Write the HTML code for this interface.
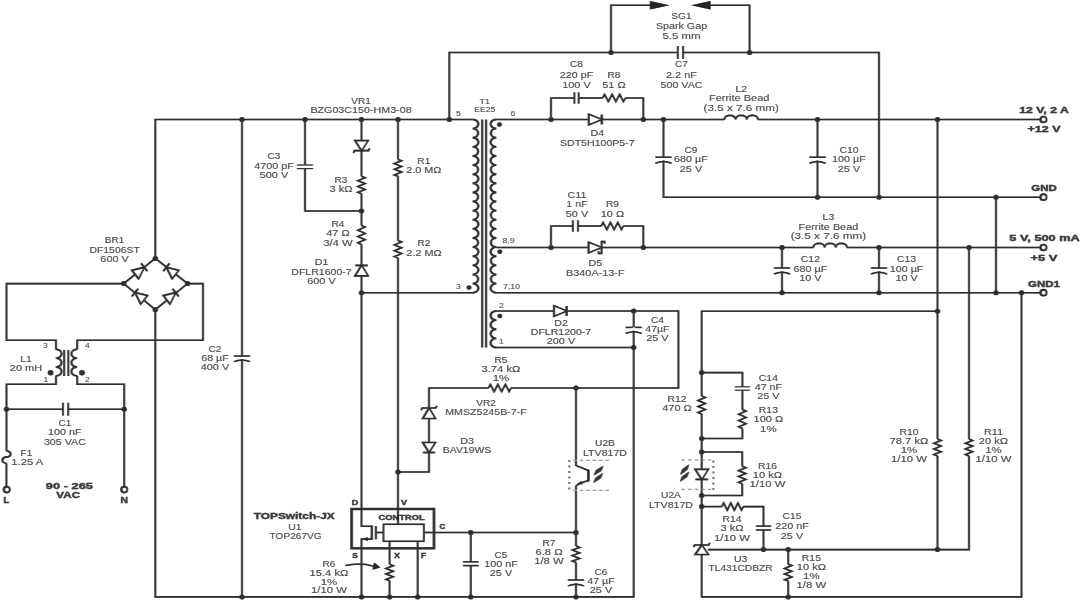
<!DOCTYPE html>
<html><head><meta charset="utf-8"><title>Schematic</title>
<style>
html,body{margin:0;padding:0;background:#fff;}
body{width:1080px;height:600px;overflow:hidden;}
svg{display:block;font-family:"Liberation Sans",sans-serif;filter:grayscale(1);}
</style></head><body>
<svg width="1080" height="600" viewBox="0 0 1080 600" fill="none" stroke="#1a1a1a" stroke-linecap="butt" stroke-linejoin="miter">
<rect x="0" y="0" width="1080" height="600" fill="#fff" stroke="none"/>
<defs><g id="all">
<path d="M124.00,283.60 L6.50,283.60 L6.50,340.20 L56.00,340.20 L56.00,349.50" stroke-width="1.6" />
<path d="M187.60,283.60 L203.00,283.60 L203.00,340.20 L77.20,340.20 L77.20,349.50" stroke-width="1.6" />
<path d="M56.00,349.30 A5.60,4.43 0 0 1 56.00,358.17 A5.60,4.43 0 0 1 56.00,367.03 A5.60,4.43 0 0 1 56.00,375.90" stroke-width="1.8"/>
<path d="M77.00,349.30 A5.60,4.43 0 0 0 77.00,358.17 A5.60,4.43 0 0 0 77.00,367.03 A5.60,4.43 0 0 0 77.00,375.90" stroke-width="1.8"/>
<path d="M64.20,350.00 L64.20,376.00" stroke-width="1.6" />
<path d="M68.30,350.00 L68.30,376.00" stroke-width="1.6" />
<path d="M56.00,375.70 L56.00,384.30 L6.50,384.30 L6.50,451.00" stroke-width="1.6" />
<path d="M77.20,375.70 L77.20,384.30 L124.20,384.30 L124.20,487.00" stroke-width="1.6" />
<circle cx="50.60" cy="372.80" r="2.7" fill="#1a1a1a" stroke="none"/>
<circle cx="82.00" cy="372.80" r="2.7" fill="#1a1a1a" stroke="none"/>
<path d="M6.50,409.20 L63.00,409.20" stroke-width="1.6" />
<path d="M68.20,409.20 L124.20,409.20" stroke-width="1.6" />
<path d="M63.00,402.70 L63.00,415.70" stroke-width="1.5" />
<path d="M68.20,402.70 L68.20,415.70" stroke-width="1.5" />
<circle cx="6.50" cy="409.20" r="2.5" fill="#1a1a1a" stroke="none"/>
<circle cx="124.20" cy="409.20" r="2.5" fill="#1a1a1a" stroke="none"/>
<path d="M6.4,450.8 C12,451.5 12,456.4 6.6,457 C1,457.6 1,462.6 6.4,463.3" stroke-width="1.8"/>
<path d="M6.40,463.30 L6.40,487.00" stroke-width="1.6" />
<circle cx="6.70" cy="489.60" r="2.9" fill="#fff" stroke-width="1.9"/>
<circle cx="124.20" cy="489.60" r="2.9" fill="#fff" stroke-width="1.9"/>
<path d="M155.30,258.40 L123.70,283.60 L155.30,309.70 L187.60,283.60 L155.30,258.40" stroke-width="1.6" />
<path d="M138.51,278.61 L131.90,270.33 L144.20,267.30 Z" fill="#fff" stroke-width="1.7"/>
<path d="M147.32,271.21 L141.08,263.39" stroke-width="1.8" />
<path d="M178.70,270.33 L172.09,278.61 L166.40,267.30 Z" fill="#fff" stroke-width="1.7"/>
<path d="M169.52,263.39 L163.28,271.21" stroke-width="1.8" />
<path d="M147.30,295.63 L140.69,303.91 L135.00,292.60 Z" fill="#fff" stroke-width="1.7"/>
<path d="M138.12,288.69 L131.88,296.51" stroke-width="1.8" />
<path d="M169.91,303.91 L163.30,295.63 L175.60,292.60 Z" fill="#fff" stroke-width="1.7"/>
<path d="M178.72,296.51 L172.48,288.69" stroke-width="1.8" />
<circle cx="155.30" cy="258.40" r="2.5" fill="#1a1a1a" stroke="none"/>
<circle cx="123.70" cy="283.60" r="2.5" fill="#1a1a1a" stroke="none"/>
<circle cx="187.60" cy="283.60" r="2.5" fill="#1a1a1a" stroke="none"/>
<circle cx="155.30" cy="309.70" r="2.5" fill="#1a1a1a" stroke="none"/>
<path d="M155.30,258.40 L155.30,119.50 L472.50,119.50" stroke-width="1.6" />
<path d="M155.30,309.70 L155.30,596.90 L633.70,596.90 L633.70,311.00" stroke-width="1.6" />
<path d="M242.00,119.50 L242.00,356.00" stroke-width="1.6" />
<path d="M242.00,359.30 L242.00,596.90" stroke-width="1.6" />
<path d="M234.00,356.00 L250.00,356.00" stroke-width="1.5" />
<path d="M234.00,361.60 Q242.00,358.20 250.00,361.60" stroke-width="1.5"/>
<circle cx="242.00" cy="119.50" r="2.5" fill="#1a1a1a" stroke="none"/>
<circle cx="242.00" cy="596.90" r="2.5" fill="#1a1a1a" stroke="none"/>
<path d="M305.00,119.50 L305.00,165.00" stroke-width="1.6" />
<path d="M305.00,168.60 L305.00,211.00 L361.50,211.00" stroke-width="1.6" />
<path d="M297.00,165.00 L313.00,165.00" stroke-width="1.1" />
<path d="M297.00,168.60 L313.00,168.60" stroke-width="1.1" />
<circle cx="305.00" cy="119.50" r="2.5" fill="#1a1a1a" stroke="none"/>
<path d="M361.50,119.50 L361.50,140.60" stroke-width="1.6" />
<path d="M361.50,150.60 L361.50,176.30" stroke-width="1.6" />
<path d="M355.00,140.60 L368.00,140.60 L361.50,150.60 Z" fill="#fff" stroke-width="1.7"/>
<path d="M353.50,152.90 L354.40,150.60 L368.60,150.60 L369.50,148.30" stroke-width="1.6" />
<path d="M361.50,176.30 L365.10,177.76 L357.90,180.68 L365.10,183.59 L357.90,186.51 L365.10,189.43 L357.90,192.34 L361.50,193.80" stroke-width="1.6" stroke-linejoin="miter"/>
<path d="M361.50,193.80 L361.50,225.50" stroke-width="1.6" />
<path d="M361.50,225.50 L365.10,227.07 L357.90,230.22 L365.10,233.38 L357.90,236.53 L365.10,239.68 L357.90,242.82 L361.50,244.40" stroke-width="1.6" stroke-linejoin="miter"/>
<path d="M361.50,244.40 L361.50,265.40" stroke-width="1.6" />
<path d="M368.00,275.90 L355.00,275.90 L361.50,265.40 Z" fill="#fff" stroke-width="1.7"/>
<path d="M367.70,265.40 L355.30,265.40" stroke-width="1.8" />
<path d="M361.50,276.00 L361.50,509.00" stroke-width="1.6" />
<circle cx="361.50" cy="119.50" r="2.5" fill="#1a1a1a" stroke="none"/>
<circle cx="361.50" cy="211.00" r="2.5" fill="#1a1a1a" stroke="none"/>
<circle cx="361.50" cy="292.70" r="2.5" fill="#1a1a1a" stroke="none"/>
<path d="M398.00,119.50 L398.00,159.40" stroke-width="1.6" />
<path d="M398.00,159.40 L401.60,160.81 L394.40,163.62 L401.60,166.44 L394.40,169.26 L401.60,172.08 L394.40,174.89 L398.00,176.30" stroke-width="1.6" stroke-linejoin="miter"/>
<path d="M398.00,176.30 L398.00,240.50" stroke-width="1.6" />
<path d="M398.00,240.50 L401.60,241.96 L394.40,244.88 L401.60,247.79 L394.40,250.71 L401.60,253.62 L394.40,256.54 L398.00,258.00" stroke-width="1.6" stroke-linejoin="miter"/>
<path d="M398.00,258.00 L398.00,524.30" stroke-width="1.6" />
<circle cx="398.00" cy="119.50" r="2.5" fill="#1a1a1a" stroke="none"/>
<circle cx="398.00" cy="472.00" r="2.5" fill="#1a1a1a" stroke="none"/>
<circle cx="449.30" cy="119.50" r="2.5" fill="#1a1a1a" stroke="none"/>
<path d="M449.30,119.50 L449.30,52.50 L676.80,52.50" stroke-width="1.6" />
<path d="M683.00,52.50 L879.00,52.50 L879.00,197.20" stroke-width="1.6" />
<path d="M677.80,46.00 L677.80,59.00" stroke-width="1.5" />
<path d="M683.10,46.00 L683.10,59.00" stroke-width="1.5" />
<path d="M611.00,52.50 L611.00,5.20 L652.00,5.20" stroke-width="1.6" />
<path d="M708.00,5.20 L749.60,5.20 L749.60,52.50" stroke-width="1.6" />
<path d="M650,1 L669.5,5.2 L650,9.4 Z" fill="#111" stroke="none"/>
<path d="M710.5,1 L691,5.2 L710.5,9.4 Z" fill="#111" stroke="none"/>
<circle cx="611.00" cy="52.50" r="2.5" fill="#1a1a1a" stroke="none"/>
<circle cx="749.60" cy="52.50" r="2.5" fill="#1a1a1a" stroke="none"/>
<path d="M472.80,119.50 A5.60,4.56 0 0 1 472.80,128.62 A5.60,4.56 0 0 1 472.80,137.73 A5.60,4.56 0 0 1 472.80,146.85 A5.60,4.56 0 0 1 472.80,155.96 A5.60,4.56 0 0 1 472.80,165.08 A5.60,4.56 0 0 1 472.80,174.19 A5.60,4.56 0 0 1 472.80,183.31 A5.60,4.56 0 0 1 472.80,192.43 A5.60,4.56 0 0 1 472.80,201.54 A5.60,4.56 0 0 1 472.80,210.66 A5.60,4.56 0 0 1 472.80,219.77 A5.60,4.56 0 0 1 472.80,228.89 A5.60,4.56 0 0 1 472.80,238.01 A5.60,4.56 0 0 1 472.80,247.12 A5.60,4.56 0 0 1 472.80,256.24 A5.60,4.56 0 0 1 472.80,265.35 A5.60,4.56 0 0 1 472.80,274.47 A5.60,4.56 0 0 1 472.80,283.58 A5.60,4.56 0 0 1 472.80,292.70" stroke-width="1.9"/>
<path d="M361.50,292.70 L473.00,292.70" stroke-width="1.6" />
<path d="M482.20,119.50 L482.20,347.50" stroke-width="1.7" />
<path d="M486.10,119.50 L486.10,347.50" stroke-width="1.7" />
<path d="M496.20,119.50 A5.60,4.56 0 0 0 496.20,128.62 A5.60,4.56 0 0 0 496.20,137.73 A5.60,4.56 0 0 0 496.20,146.85 A5.60,4.56 0 0 0 496.20,155.96 A5.60,4.56 0 0 0 496.20,165.08 A5.60,4.56 0 0 0 496.20,174.19 A5.60,4.56 0 0 0 496.20,183.31 A5.60,4.56 0 0 0 496.20,192.43 A5.60,4.56 0 0 0 496.20,201.54 A5.60,4.56 0 0 0 496.20,210.66 A5.60,4.56 0 0 0 496.20,219.77 A5.60,4.56 0 0 0 496.20,228.89 A5.60,4.56 0 0 0 496.20,238.01 A5.60,4.56 0 0 0 496.20,247.12 A5.60,4.56 0 0 0 496.20,256.24 A5.60,4.56 0 0 0 496.20,265.35 A5.60,4.56 0 0 0 496.20,274.47 A5.60,4.56 0 0 0 496.20,283.58 A5.60,4.56 0 0 0 496.20,292.70" stroke-width="1.9"/>
<path d="M496.20,311.00 A5.60,4.56 0 0 0 496.20,320.12 A5.60,4.56 0 0 0 496.20,329.25 A5.60,4.56 0 0 0 496.20,338.38 A5.60,4.56 0 0 0 496.20,347.50" stroke-width="1.9"/>
<circle cx="499.50" cy="124.50" r="2.3" fill="#1a1a1a" stroke="none"/>
<circle cx="499.80" cy="251.80" r="2.3" fill="#1a1a1a" stroke="none"/>
<circle cx="469.00" cy="287.50" r="2.3" fill="#1a1a1a" stroke="none"/>
<circle cx="499.80" cy="316.00" r="2.3" fill="#1a1a1a" stroke="none"/>
<path d="M496.00,119.50 L588.70,119.50" stroke-width="1.6" />
<path d="M601.80,119.50 L724.40,119.50" stroke-width="1.6" />
<path d="M588.80,124.75 L588.80,114.25 L601.80,119.50 Z" fill="#fff" stroke-width="1.7"/>
<path d="M601.80,124.45 L601.80,114.55" stroke-width="2.0" />
<path d="M551.00,119.50 L551.00,98.00 L574.40,98.00" stroke-width="1.6" />
<path d="M578.70,98.00 L602.70,98.00" stroke-width="1.6" />
<path d="M602.70,98.00 L604.58,94.40 L608.35,101.60 L612.12,94.40 L615.88,101.60 L619.65,94.40 L623.42,101.60 L625.30,98.00" stroke-width="1.6" stroke-linejoin="miter"/>
<path d="M625.30,98.00 L643.30,98.00 L643.30,119.50" stroke-width="1.6" />
<path d="M574.40,92.25 L574.40,103.75" stroke-width="1.5" />
<path d="M578.70,92.25 L578.70,103.75" stroke-width="1.5" />
<circle cx="551.00" cy="119.50" r="2.5" fill="#1a1a1a" stroke="none"/>
<circle cx="643.30" cy="119.50" r="2.5" fill="#1a1a1a" stroke="none"/>
<circle cx="663.50" cy="119.50" r="2.5" fill="#1a1a1a" stroke="none"/>
<path d="M663.50,119.50 L663.50,157.20" stroke-width="1.6" />
<path d="M663.50,160.60 L663.50,197.20 L1040.60,197.20" stroke-width="1.6" />
<path d="M655.50,157.20 L671.50,157.20" stroke-width="1.5" />
<path d="M655.50,163.20 Q663.50,159.80 671.50,163.20" stroke-width="1.5"/>
<path d="M724.40,119.50 A5.60,4.20 0 0 1 735.60,119.50 A5.60,4.20 0 0 1 746.80,119.50 A5.60,4.20 0 0 1 758.00,119.50" stroke-width="1.8"/>
<path d="M758.00,119.50 L1040.60,119.50" stroke-width="1.6" />
<path d="M817.50,119.50 L817.50,157.20" stroke-width="1.6" />
<path d="M817.50,160.60 L817.50,197.20" stroke-width="1.6" />
<path d="M809.50,157.20 L825.50,157.20" stroke-width="1.5" />
<path d="M809.50,163.20 Q817.50,159.80 825.50,163.20" stroke-width="1.5"/>
<circle cx="817.50" cy="119.50" r="2.5" fill="#1a1a1a" stroke="none"/>
<circle cx="817.50" cy="197.20" r="2.5" fill="#1a1a1a" stroke="none"/>
<circle cx="879.00" cy="197.20" r="2.5" fill="#1a1a1a" stroke="none"/>
<circle cx="937.50" cy="119.50" r="2.5" fill="#1a1a1a" stroke="none"/>
<circle cx="996.00" cy="197.20" r="2.5" fill="#1a1a1a" stroke="none"/>
<circle cx="1043.40" cy="119.50" r="2.9" fill="#fff" stroke-width="1.9"/>
<circle cx="1043.40" cy="197.20" r="2.9" fill="#fff" stroke-width="1.9"/>
<circle cx="1043.40" cy="247.50" r="2.9" fill="#fff" stroke-width="1.9"/>
<circle cx="1043.40" cy="292.70" r="2.9" fill="#fff" stroke-width="1.9"/>
<path d="M496.00,247.50 L588.70,247.50" stroke-width="1.6" />
<path d="M601.60,247.50 L813.40,247.50" stroke-width="1.6" />
<path d="M588.60,252.75 L588.60,242.25 L601.60,247.50 Z" fill="#fff" stroke-width="1.7"/>
<path d="M598.60,251.35 L598.60,253.35 L601.60,253.35 L601.60,241.65 L604.60,241.65 L604.60,243.65" stroke-width="1.6" />
<path d="M551.00,247.50 L551.00,226.00 L572.90,226.00" stroke-width="1.6" />
<path d="M578.00,226.00 L601.30,226.00" stroke-width="1.6" />
<path d="M601.30,226.00 L603.13,222.40 L606.80,229.60 L610.47,222.40 L614.13,229.60 L617.80,222.40 L621.47,229.60 L623.30,226.00" stroke-width="1.6" stroke-linejoin="miter"/>
<path d="M623.30,226.00 L643.30,226.00 L643.30,247.50" stroke-width="1.6" />
<path d="M572.90,220.25 L572.90,231.75" stroke-width="1.5" />
<path d="M578.00,220.25 L578.00,231.75" stroke-width="1.5" />
<circle cx="551.00" cy="247.50" r="2.5" fill="#1a1a1a" stroke="none"/>
<circle cx="643.30" cy="247.50" r="2.5" fill="#1a1a1a" stroke="none"/>
<path d="M813.40,247.50 A5.60,4.20 0 0 1 824.60,247.50 A5.60,4.20 0 0 1 835.80,247.50 A5.60,4.20 0 0 1 847.00,247.50" stroke-width="1.8"/>
<path d="M847.00,247.50 L1040.60,247.50" stroke-width="1.6" />
<path d="M496.00,292.70 L1040.60,292.70" stroke-width="1.6" />
<path d="M782.00,247.50 L782.00,268.00" stroke-width="1.6" />
<path d="M782.00,271.40 L782.00,292.70" stroke-width="1.6" />
<path d="M774.00,268.00 L790.00,268.00" stroke-width="1.5" />
<path d="M774.00,274.00 Q782.00,270.60 790.00,274.00" stroke-width="1.5"/>
<circle cx="782.00" cy="247.50" r="2.5" fill="#1a1a1a" stroke="none"/>
<circle cx="782.00" cy="292.70" r="2.5" fill="#1a1a1a" stroke="none"/>
<path d="M879.00,247.50 L879.00,268.00" stroke-width="1.6" />
<path d="M879.00,271.40 L879.00,292.70" stroke-width="1.6" />
<path d="M871.00,268.00 L887.00,268.00" stroke-width="1.5" />
<path d="M871.00,274.00 Q879.00,270.60 887.00,274.00" stroke-width="1.5"/>
<circle cx="879.00" cy="247.50" r="2.5" fill="#1a1a1a" stroke="none"/>
<circle cx="879.00" cy="292.70" r="2.5" fill="#1a1a1a" stroke="none"/>
<circle cx="969.00" cy="247.50" r="2.5" fill="#1a1a1a" stroke="none"/>
<circle cx="996.00" cy="292.70" r="2.5" fill="#1a1a1a" stroke="none"/>
<circle cx="1021.50" cy="292.70" r="2.5" fill="#1a1a1a" stroke="none"/>
<path d="M996.00,197.20 L996.00,292.70" stroke-width="1.6" />
<path d="M937.50,119.50 L937.50,439.00" stroke-width="1.6" />
<path d="M937.50,439.00 L941.10,440.42 L933.90,443.25 L941.10,446.08 L933.90,448.92 L941.10,451.75 L933.90,454.58 L937.50,456.00" stroke-width="1.6" stroke-linejoin="miter"/>
<path d="M937.50,456.00 L937.50,549.60" stroke-width="1.6" />
<path d="M969.00,247.50 L969.00,439.00" stroke-width="1.6" />
<path d="M969.00,439.00 L972.60,440.42 L965.40,443.25 L972.60,446.08 L965.40,448.92 L972.60,451.75 L965.40,454.58 L969.00,456.00" stroke-width="1.6" stroke-linejoin="miter"/>
<path d="M969.00,456.00 L969.00,549.60 L708.00,549.60" stroke-width="1.6" />
<path d="M1021.50,292.70 L1021.50,596.90 L701.70,596.90 L701.70,554.50" stroke-width="1.6" />
<circle cx="937.50" cy="311.30" r="2.5" fill="#1a1a1a" stroke="none"/>
<circle cx="937.50" cy="549.60" r="2.5" fill="#1a1a1a" stroke="none"/>
<path d="M496.00,311.00 L554.00,311.00" stroke-width="1.6" />
<path d="M566.60,311.00 L678.40,311.00 L678.40,388.00 L511.00,388.00" stroke-width="1.6" />
<path d="M554.00,316.25 L554.00,305.75 L566.60,311.00 Z" fill="#fff" stroke-width="1.7"/>
<path d="M566.60,315.95 L566.60,306.05" stroke-width="2.0" />
<path d="M496.00,347.50 L633.70,347.50" stroke-width="1.6" />
<circle cx="633.70" cy="311.00" r="2.5" fill="#1a1a1a" stroke="none"/>
<circle cx="633.70" cy="347.50" r="2.5" fill="#1a1a1a" stroke="none"/>
<path d="M625.70,327.40 L641.70,327.40" stroke-width="1.5" />
<path d="M625.70,333.40 Q633.70,330.00 641.70,333.40" stroke-width="1.5"/>
<path d="M633.7,327.4 L633.7,330.6" stroke="#fff" stroke-width="2.4"/>
<path d="M488.50,388.00 L490.38,384.40 L494.12,391.60 L497.88,384.40 L501.62,391.60 L505.38,384.40 L509.12,391.60 L511.00,388.00" stroke-width="1.6" stroke-linejoin="miter"/>
<path d="M488.50,388.00 L429.00,388.00 L429.00,408.00" stroke-width="1.6" />
<path d="M435.25,418.50 L422.75,418.50 L429.00,408.00 Z" fill="#fff" stroke-width="1.7"/>
<path d="M421.25,410.30 L422.15,408.00 L435.85,408.00 L436.75,405.70" stroke-width="1.6" />
<path d="M429.00,418.50 L429.00,442.50" stroke-width="1.6" />
<path d="M422.75,442.50 L435.25,442.50 L429.00,452.50 Z" fill="#fff" stroke-width="1.7"/>
<path d="M423.05,452.50 L434.95,452.50" stroke-width="1.8" />
<path d="M429.00,452.50 L429.00,472.00 L398.00,472.00" stroke-width="1.6" />
<circle cx="576.00" cy="388.00" r="2.5" fill="#1a1a1a" stroke="none"/>
<path d="M576.00,388.00 L576.00,465.40 L588.40,470.60" stroke-width="1.6" />
<path d="M588.40,469.80 L588.40,481.40" stroke-width="2.2" />
<path d="M588.40,480.60 L579.20,483.40 L576.00,486.20 L576.00,546.00" stroke-width="1.6" />
<path d="M577,485 L582.6,484 L581.2,481 Z" fill="#111" stroke="none"/>
<path d="M608.6,460.4 L572,460.4 M608.6,490.4 L572,490.4" stroke="#909090" stroke-width="1.2" stroke-dasharray="3,3.4" />
<path d="M569.3,460 L569.3,490" stroke="#666" stroke-width="1.7" stroke-dasharray="2,3.5" />
<path d="M603.0,466.2 L596.2,470.3 L594.2,475.0 L601.0,470.9 Z" fill="#222" stroke="#222" stroke-width="0.6" stroke-linejoin="round"/>
<path d="M602.6,473.4 L595.8,477.8 L593.8,482.6 L600.6,478.2 Z" fill="#222" stroke="#222" stroke-width="0.6" stroke-linejoin="round"/>
<path d="M434.00,532.50 L576.00,532.50" stroke-width="1.6" />
<circle cx="470.80" cy="532.50" r="2.5" fill="#1a1a1a" stroke="none"/>
<circle cx="576.00" cy="532.50" r="2.5" fill="#1a1a1a" stroke="none"/>
<path d="M470.80,532.50 L470.80,561.60" stroke-width="1.6" />
<path d="M470.80,565.40 L470.80,596.90" stroke-width="1.6" />
<path d="M463.05,561.80 L478.55,561.80" stroke-width="1.5" />
<path d="M463.05,565.60 L478.55,565.60" stroke-width="1.5" />
<circle cx="470.80" cy="596.90" r="2.5" fill="#1a1a1a" stroke="none"/>
<path d="M576.00,546.00 L579.60,547.38 L572.40,550.12 L579.60,552.88 L572.40,555.62 L579.60,558.38 L572.40,561.12 L576.00,562.50" stroke-width="1.6" stroke-linejoin="miter"/>
<path d="M576.00,562.50 L576.00,580.00" stroke-width="1.6" />
<path d="M576.00,583.30 L576.00,596.90" stroke-width="1.6" />
<path d="M568.00,580.00 L584.00,580.00" stroke-width="1.5" />
<path d="M568.00,585.90 Q576.00,582.50 584.00,585.90" stroke-width="1.5"/>
<circle cx="576.00" cy="596.90" r="2.5" fill="#1a1a1a" stroke="none"/>
<rect x="351.6" y="509" width="82.4" height="39.3" fill="none" stroke-width="2.3"/>
<rect x="383.5" y="524.3" width="40.4" height="17" fill="none" stroke-width="1.5"/>
<path d="M361.50,509.00 L361.50,526.30 L371.80,526.30" stroke-width="1.6" />
<path d="M371.80,525.50 L371.80,539.90" stroke-width="1.9" />
<path d="M375.90,526.00 L375.90,539.30" stroke-width="1.7" />
<path d="M375.90,532.50 L383.50,532.50" stroke-width="1.6" />
<path d="M423.90,532.50 L434.00,532.50" stroke-width="1.6" />
<path d="M371.80,539.10 L361.50,539.10 L361.50,596.90" stroke-width="1.6" />
<path d="M363.4,539.1 L367.6,536.9 L367.6,541.3 Z" fill="#111" stroke="none"/>
<path d="M389.60,541.30 L389.60,564.30" stroke-width="1.6" />
<path d="M389.60,564.30 L393.20,565.67 L386.00,568.42 L393.20,571.17 L386.00,573.92 L393.20,576.67 L386.00,579.42 L389.60,580.80" stroke-width="1.6" stroke-linejoin="miter"/>
<path d="M389.60,580.80 L389.60,596.90" stroke-width="1.6" />
<path d="M417.70,541.30 L417.70,596.90" stroke-width="1.6" />
<circle cx="361.50" cy="596.90" r="2.5" fill="#1a1a1a" stroke="none"/>
<circle cx="389.60" cy="596.90" r="2.5" fill="#1a1a1a" stroke="none"/>
<circle cx="417.70" cy="596.90" r="2.5" fill="#1a1a1a" stroke="none"/>
<path d="M345.6,565.6 Q360,562 374,566.4" stroke-width="1.5"/>
<path d="M380.4,567.4 L372.6,569.8 L374.2,562.4 Z" fill="#111" stroke="none"/>
<path d="M937.50,311.30 L701.70,311.30 L701.70,396.00" stroke-width="1.6" />
<path d="M701.70,396.00 L705.30,397.50 L698.10,400.50 L705.30,403.50 L698.10,406.50 L705.30,409.50 L698.10,412.50 L701.70,414.00" stroke-width="1.6" stroke-linejoin="miter"/>
<path d="M701.70,414.00 L701.70,469.00" stroke-width="1.6" />
<path d="M701.70,479.00 L701.70,545.00" stroke-width="1.6" />
<path d="M701.70,372.60 L742.40,372.60 L742.40,386.80" stroke-width="1.6" />
<path d="M742.40,390.20 L742.40,409.50" stroke-width="1.6" />
<path d="M742.40,409.50 L746.00,411.07 L738.80,414.23 L746.00,417.38 L738.80,420.52 L746.00,423.67 L738.80,426.82 L742.40,428.40" stroke-width="1.6" stroke-linejoin="miter"/>
<path d="M742.40,428.40 L742.40,438.50 L701.70,438.50" stroke-width="1.6" />
<path d="M734.90,386.80 L749.90,386.80" stroke-width="1.0" />
<path d="M734.90,390.20 L749.90,390.20" stroke-width="1.0" />
<circle cx="701.70" cy="372.60" r="2.5" fill="#1a1a1a" stroke="none"/>
<circle cx="701.70" cy="438.50" r="2.5" fill="#1a1a1a" stroke="none"/>
<circle cx="701.70" cy="452.00" r="2.5" fill="#1a1a1a" stroke="none"/>
<circle cx="701.70" cy="495.50" r="2.5" fill="#1a1a1a" stroke="none"/>
<circle cx="701.70" cy="506.60" r="2.5" fill="#1a1a1a" stroke="none"/>
<path d="M701.70,452.00 L742.20,452.00 L742.20,466.30" stroke-width="1.6" />
<path d="M742.20,466.30 L745.80,467.76 L738.60,470.68 L745.80,473.59 L738.60,476.51 L745.80,479.43 L738.60,482.34 L742.20,483.80" stroke-width="1.6" stroke-linejoin="miter"/>
<path d="M742.20,483.80 L742.20,495.50 L701.70,495.50" stroke-width="1.6" />
<path d="M695.20,469.40 L708.20,469.40 L701.70,479.40 Z" fill="#fff" stroke-width="1.7"/>
<path d="M695.50,479.40 L707.90,479.40" stroke-width="1.8" />
<path d="M681.6,459.8 L711,459.8 M681.6,489.4 L711,489.4" stroke="#909090" stroke-width="1.2" stroke-dasharray="3,3.7" />
<path d="M713.4,460.4 L713.4,490" stroke="#666" stroke-width="1.7" stroke-dasharray="2,3.5" />
<path d="M688.8,464.8 L682.3,469.5 L680.6,474.4 L687.1,469.7 Z" fill="#222" stroke="#222" stroke-width="0.6" stroke-linejoin="round"/>
<path d="M688.8,472.0 L682.2,476.6 L680.4,481.4 L687.0,476.8 Z" fill="#222" stroke="#222" stroke-width="0.6" stroke-linejoin="round"/>
<path d="M701.70,506.60 L721.90,506.60" stroke-width="1.6" />
<path d="M721.90,506.60 L723.68,503.00 L727.25,510.20 L730.82,503.00 L734.38,510.20 L737.95,503.00 L741.52,510.20 L743.30,506.60" stroke-width="1.6" stroke-linejoin="miter"/>
<path d="M743.30,506.60 L763.50,506.60 L763.50,526.10" stroke-width="1.6" />
<path d="M763.50,530.00 L763.50,549.60" stroke-width="1.6" />
<path d="M756.00,526.10 L771.00,526.10" stroke-width="1.5" />
<path d="M756.00,530.00 L771.00,530.00" stroke-width="1.5" />
<circle cx="763.50" cy="549.60" r="2.5" fill="#1a1a1a" stroke="none"/>
<circle cx="788.20" cy="549.60" r="2.5" fill="#1a1a1a" stroke="none"/>
<path d="M708.20,554.50 L695.20,554.50 L701.70,545.00 Z" fill="#fff" stroke-width="1.7"/>
<path d="M693.70,547.30 L694.60,545.00 L708.80,545.00 L709.70,542.70" stroke-width="1.6" />
<path d="M788.20,549.60 L788.20,564.20" stroke-width="1.6" />
<path d="M788.20,564.20 L791.80,565.61 L784.60,568.43 L791.80,571.24 L784.60,574.06 L791.80,576.88 L784.60,579.69 L788.20,581.10" stroke-width="1.6" stroke-linejoin="miter"/>
<path d="M788.20,581.10 L788.20,596.90" stroke-width="1.6" />
<circle cx="788.20" cy="596.90" r="2.5" fill="#1a1a1a" stroke="none"/>
</g><g id="txt">
<text x="114.60" y="243.40" font-size="9.41" text-anchor="middle" textLength="19.56" lengthAdjust="spacingAndGlyphs" fill="#2a2a2a" stroke="none">BR1</text>
<text x="114.60" y="252.80" font-size="9.41" text-anchor="middle" textLength="50.34" lengthAdjust="spacingAndGlyphs" fill="#2a2a2a" stroke="none">DF1506ST</text>
<text x="114.60" y="262.19" font-size="9.41" text-anchor="middle" textLength="28.56" lengthAdjust="spacingAndGlyphs" fill="#2a2a2a" stroke="none">600 V</text>
<text x="26.00" y="362.19" font-size="9.41" text-anchor="middle" textLength="11.57" lengthAdjust="spacingAndGlyphs" fill="#2a2a2a" stroke="none">L1</text>
<text x="26.00" y="371.19" font-size="9.41" text-anchor="middle" textLength="32.48" lengthAdjust="spacingAndGlyphs" fill="#2a2a2a" stroke="none">20 mH</text>
<text x="64.90" y="425.99" font-size="9.41" text-anchor="middle" textLength="12.94" lengthAdjust="spacingAndGlyphs" fill="#2a2a2a" stroke="none">C1</text>
<text x="64.90" y="435.29" font-size="9.41" text-anchor="middle" textLength="33.64" lengthAdjust="spacingAndGlyphs" fill="#2a2a2a" stroke="none">100 nF</text>
<text x="64.90" y="444.59" font-size="9.41" text-anchor="middle" textLength="41.96" lengthAdjust="spacingAndGlyphs" fill="#2a2a2a" stroke="none">305 VAC</text>
<text x="26.40" y="455.99" font-size="9.41" text-anchor="middle" textLength="11.75" lengthAdjust="spacingAndGlyphs" fill="#2a2a2a" stroke="none">F1</text>
<text x="27.30" y="465.39" font-size="9.41" text-anchor="middle" textLength="32.09" lengthAdjust="spacingAndGlyphs" fill="#2a2a2a" stroke="none">1.25 A</text>
<text x="69.40" y="488.69" font-size="9.12" text-anchor="middle" textLength="47.20" lengthAdjust="spacingAndGlyphs" fill="#151515" font-weight="bold" stroke="#151515" stroke-width="0.3">90 - 265</text>
<text x="68.20" y="498.19" font-size="9.12" text-anchor="middle" textLength="23.70" lengthAdjust="spacingAndGlyphs" fill="#151515" font-weight="bold" stroke="#151515" stroke-width="0.3">VAC</text>
<text x="6.30" y="502.91" font-size="8.34" text-anchor="middle" textLength="5.60" lengthAdjust="spacingAndGlyphs" fill="#151515" font-weight="bold" stroke="#151515" stroke-width="0.3">L</text>
<text x="124.20" y="502.91" font-size="8.34" text-anchor="middle" textLength="7.50" lengthAdjust="spacingAndGlyphs" fill="#151515" font-weight="bold" stroke="#151515" stroke-width="0.3">N</text>
<text x="45.30" y="348.32" font-size="7.27" text-anchor="middle" textLength="4.77" lengthAdjust="spacingAndGlyphs" fill="#333" stroke="none">3</text>
<text x="87.30" y="348.32" font-size="7.27" text-anchor="middle" textLength="4.77" lengthAdjust="spacingAndGlyphs" fill="#333" stroke="none">4</text>
<text x="45.80" y="381.62" font-size="7.27" text-anchor="middle" textLength="4.77" lengthAdjust="spacingAndGlyphs" fill="#333" stroke="none">1</text>
<text x="87.50" y="381.62" font-size="7.27" text-anchor="middle" textLength="4.77" lengthAdjust="spacingAndGlyphs" fill="#333" stroke="none">2</text>
<text x="215.00" y="351.69" font-size="9.41" text-anchor="middle" textLength="12.94" lengthAdjust="spacingAndGlyphs" fill="#2a2a2a" stroke="none">C2</text>
<text x="215.00" y="361.09" font-size="9.41" text-anchor="middle" textLength="27.55" lengthAdjust="spacingAndGlyphs" fill="#2a2a2a" stroke="none">68 µF</text>
<text x="215.00" y="370.49" font-size="9.41" text-anchor="middle" textLength="28.56" lengthAdjust="spacingAndGlyphs" fill="#2a2a2a" stroke="none">400 V</text>
<text x="274.00" y="159.30" font-size="9.41" text-anchor="middle" textLength="12.94" lengthAdjust="spacingAndGlyphs" fill="#2a2a2a" stroke="none">C3</text>
<text x="274.00" y="168.50" font-size="9.41" text-anchor="middle" textLength="39.71" lengthAdjust="spacingAndGlyphs" fill="#2a2a2a" stroke="none">4700 pF</text>
<text x="274.00" y="177.70" font-size="9.41" text-anchor="middle" textLength="28.56" lengthAdjust="spacingAndGlyphs" fill="#2a2a2a" stroke="none">500 V</text>
<text x="361.00" y="104.39" font-size="9.41" text-anchor="middle" textLength="19.55" lengthAdjust="spacingAndGlyphs" fill="#2a2a2a" stroke="none">VR1</text>
<text x="361.00" y="113.39" font-size="9.41" text-anchor="middle" textLength="101.21" lengthAdjust="spacingAndGlyphs" fill="#2a2a2a" stroke="none">BZG03C150-HM3-08</text>
<text x="423.80" y="163.80" font-size="9.41" text-anchor="middle" textLength="12.91" lengthAdjust="spacingAndGlyphs" fill="#2a2a2a" stroke="none">R1</text>
<text x="423.80" y="173.20" font-size="9.41" text-anchor="middle" textLength="35.22" lengthAdjust="spacingAndGlyphs" fill="#2a2a2a" stroke="none">2.0 MΩ</text>
<text x="424.00" y="246.40" font-size="9.41" text-anchor="middle" textLength="12.91" lengthAdjust="spacingAndGlyphs" fill="#2a2a2a" stroke="none">R2</text>
<text x="424.00" y="256.00" font-size="9.41" text-anchor="middle" textLength="35.22" lengthAdjust="spacingAndGlyphs" fill="#2a2a2a" stroke="none">2.2 MΩ</text>
<text x="341.00" y="182.60" font-size="9.41" text-anchor="middle" textLength="12.91" lengthAdjust="spacingAndGlyphs" fill="#2a2a2a" stroke="none">R3</text>
<text x="341.00" y="192.20" font-size="9.41" text-anchor="middle" textLength="23.09" lengthAdjust="spacingAndGlyphs" fill="#2a2a2a" stroke="none">3 kΩ</text>
<text x="338.00" y="227.00" font-size="9.41" text-anchor="middle" textLength="12.91" lengthAdjust="spacingAndGlyphs" fill="#2a2a2a" stroke="none">R4</text>
<text x="338.00" y="236.30" font-size="9.41" text-anchor="middle" textLength="23.51" lengthAdjust="spacingAndGlyphs" fill="#2a2a2a" stroke="none">47 Ω</text>
<text x="338.00" y="245.59" font-size="9.41" text-anchor="middle" textLength="29.75" lengthAdjust="spacingAndGlyphs" fill="#2a2a2a" stroke="none">3/4 W</text>
<text x="321.50" y="265.39" font-size="9.41" text-anchor="middle" textLength="13.65" lengthAdjust="spacingAndGlyphs" fill="#2a2a2a" stroke="none">D1</text>
<text x="321.50" y="274.59" font-size="9.41" text-anchor="middle" textLength="60.45" lengthAdjust="spacingAndGlyphs" fill="#2a2a2a" stroke="none">DFLR1600-7</text>
<text x="321.50" y="283.79" font-size="9.41" text-anchor="middle" textLength="28.56" lengthAdjust="spacingAndGlyphs" fill="#2a2a2a" stroke="none">600 V</text>
<text x="484.70" y="103.51" font-size="8.05" text-anchor="middle" textLength="10.39" lengthAdjust="spacingAndGlyphs" fill="#2a2a2a" stroke="none">T1</text>
<text x="484.70" y="111.91" font-size="8.05" text-anchor="middle" textLength="21.05" lengthAdjust="spacingAndGlyphs" fill="#2a2a2a" stroke="none">EE25</text>
<text x="458.50" y="116.33" font-size="7.27" text-anchor="middle" textLength="4.77" lengthAdjust="spacingAndGlyphs" fill="#333" stroke="none">5</text>
<text x="513.00" y="116.33" font-size="7.27" text-anchor="middle" textLength="4.77" lengthAdjust="spacingAndGlyphs" fill="#333" stroke="none">6</text>
<text x="508.60" y="242.62" font-size="7.27" text-anchor="middle" textLength="12.27" lengthAdjust="spacingAndGlyphs" fill="#333" stroke="none">8,9</text>
<text x="511.60" y="288.82" font-size="7.27" text-anchor="middle" textLength="17.04" lengthAdjust="spacingAndGlyphs" fill="#333" stroke="none">7,10</text>
<text x="458.50" y="288.82" font-size="7.27" text-anchor="middle" textLength="4.77" lengthAdjust="spacingAndGlyphs" fill="#333" stroke="none">3</text>
<text x="501.40" y="308.02" font-size="7.27" text-anchor="middle" textLength="4.77" lengthAdjust="spacingAndGlyphs" fill="#333" stroke="none">2</text>
<text x="501.40" y="344.22" font-size="7.27" text-anchor="middle" textLength="4.77" lengthAdjust="spacingAndGlyphs" fill="#333" stroke="none">1</text>
<text x="681.50" y="18.70" font-size="9.41" text-anchor="middle" textLength="20.32" lengthAdjust="spacingAndGlyphs" fill="#2a2a2a" stroke="none">SG1</text>
<text x="681.50" y="29.09" font-size="9.41" text-anchor="middle" textLength="51.20" lengthAdjust="spacingAndGlyphs" fill="#2a2a2a" stroke="none">Spark Gap</text>
<text x="681.50" y="38.50" font-size="9.41" text-anchor="middle" textLength="38.16" lengthAdjust="spacingAndGlyphs" fill="#2a2a2a" stroke="none">5.5 mm</text>
<text x="681.50" y="67.39" font-size="9.41" text-anchor="middle" textLength="12.94" lengthAdjust="spacingAndGlyphs" fill="#2a2a2a" stroke="none">C7</text>
<text x="681.50" y="77.59" font-size="9.41" text-anchor="middle" textLength="31.00" lengthAdjust="spacingAndGlyphs" fill="#2a2a2a" stroke="none">2.2 nF</text>
<text x="681.50" y="87.80" font-size="9.41" text-anchor="middle" textLength="41.96" lengthAdjust="spacingAndGlyphs" fill="#2a2a2a" stroke="none">500 VAC</text>
<text x="576.50" y="67.39" font-size="9.41" text-anchor="middle" textLength="12.94" lengthAdjust="spacingAndGlyphs" fill="#2a2a2a" stroke="none">C8</text>
<text x="576.50" y="77.59" font-size="9.41" text-anchor="middle" textLength="33.54" lengthAdjust="spacingAndGlyphs" fill="#2a2a2a" stroke="none">220 pF</text>
<text x="576.50" y="87.80" font-size="9.41" text-anchor="middle" textLength="28.56" lengthAdjust="spacingAndGlyphs" fill="#2a2a2a" stroke="none">100 V</text>
<text x="614.00" y="77.80" font-size="9.41" text-anchor="middle" textLength="12.91" lengthAdjust="spacingAndGlyphs" fill="#2a2a2a" stroke="none">R8</text>
<text x="614.00" y="87.80" font-size="9.41" text-anchor="middle" textLength="23.51" lengthAdjust="spacingAndGlyphs" fill="#2a2a2a" stroke="none">51 Ω</text>
<text x="741.20" y="92.20" font-size="9.41" text-anchor="middle" textLength="11.57" lengthAdjust="spacingAndGlyphs" fill="#2a2a2a" stroke="none">L2</text>
<text x="739.20" y="101.39" font-size="9.41" text-anchor="middle" textLength="60.50" lengthAdjust="spacingAndGlyphs" fill="#2a2a2a" stroke="none">Ferrite Bead</text>
<text x="741.20" y="111.00" font-size="9.41" text-anchor="middle" textLength="75.41" lengthAdjust="spacingAndGlyphs" fill="#2a2a2a" stroke="none">(3.5 x 7.6 mm)</text>
<text x="597.30" y="136.40" font-size="9.41" text-anchor="middle" textLength="13.65" lengthAdjust="spacingAndGlyphs" fill="#2a2a2a" stroke="none">D4</text>
<text x="597.30" y="146.09" font-size="9.41" text-anchor="middle" textLength="74.64" lengthAdjust="spacingAndGlyphs" fill="#2a2a2a" stroke="none">SDT5H100P5-7</text>
<text x="691.00" y="152.90" font-size="9.41" text-anchor="middle" textLength="12.94" lengthAdjust="spacingAndGlyphs" fill="#2a2a2a" stroke="none">C9</text>
<text x="691.00" y="162.30" font-size="9.41" text-anchor="middle" textLength="33.72" lengthAdjust="spacingAndGlyphs" fill="#2a2a2a" stroke="none">680 µF</text>
<text x="691.00" y="171.70" font-size="9.41" text-anchor="middle" textLength="22.39" lengthAdjust="spacingAndGlyphs" fill="#2a2a2a" stroke="none">25 V</text>
<text x="849.00" y="152.90" font-size="9.41" text-anchor="middle" textLength="19.11" lengthAdjust="spacingAndGlyphs" fill="#2a2a2a" stroke="none">C10</text>
<text x="849.00" y="162.30" font-size="9.41" text-anchor="middle" textLength="33.72" lengthAdjust="spacingAndGlyphs" fill="#2a2a2a" stroke="none">100 µF</text>
<text x="849.00" y="171.70" font-size="9.41" text-anchor="middle" textLength="22.39" lengthAdjust="spacingAndGlyphs" fill="#2a2a2a" stroke="none">25 V</text>
<text x="577.00" y="197.80" font-size="9.41" text-anchor="middle" textLength="19.11" lengthAdjust="spacingAndGlyphs" fill="#2a2a2a" stroke="none">C11</text>
<text x="577.00" y="207.40" font-size="9.41" text-anchor="middle" textLength="21.30" lengthAdjust="spacingAndGlyphs" fill="#2a2a2a" stroke="none">1 nF</text>
<text x="577.00" y="217.00" font-size="9.41" text-anchor="middle" textLength="22.39" lengthAdjust="spacingAndGlyphs" fill="#2a2a2a" stroke="none">50 V</text>
<text x="612.50" y="207.40" font-size="9.41" text-anchor="middle" textLength="12.91" lengthAdjust="spacingAndGlyphs" fill="#2a2a2a" stroke="none">R9</text>
<text x="612.50" y="217.00" font-size="9.41" text-anchor="middle" textLength="23.51" lengthAdjust="spacingAndGlyphs" fill="#2a2a2a" stroke="none">10 Ω</text>
<text x="595.30" y="266.19" font-size="9.41" text-anchor="middle" textLength="13.65" lengthAdjust="spacingAndGlyphs" fill="#2a2a2a" stroke="none">D5</text>
<text x="595.30" y="275.99" font-size="9.41" text-anchor="middle" textLength="58.52" lengthAdjust="spacingAndGlyphs" fill="#2a2a2a" stroke="none">B340A-13-F</text>
<text x="828.40" y="220.30" font-size="9.41" text-anchor="middle" textLength="11.57" lengthAdjust="spacingAndGlyphs" fill="#2a2a2a" stroke="none">L3</text>
<text x="828.40" y="229.70" font-size="9.41" text-anchor="middle" textLength="59.63" lengthAdjust="spacingAndGlyphs" fill="#2a2a2a" stroke="none">Ferrite Bead</text>
<text x="828.40" y="239.10" font-size="9.41" text-anchor="middle" textLength="75.41" lengthAdjust="spacingAndGlyphs" fill="#2a2a2a" stroke="none">(3.5 x 7.6 mm)</text>
<text x="810.40" y="262.39" font-size="9.41" text-anchor="middle" textLength="19.11" lengthAdjust="spacingAndGlyphs" fill="#2a2a2a" stroke="none">C12</text>
<text x="810.40" y="271.69" font-size="9.41" text-anchor="middle" textLength="33.72" lengthAdjust="spacingAndGlyphs" fill="#2a2a2a" stroke="none">680 µF</text>
<text x="810.40" y="281.00" font-size="9.41" text-anchor="middle" textLength="22.39" lengthAdjust="spacingAndGlyphs" fill="#2a2a2a" stroke="none">10 V</text>
<text x="906.60" y="262.39" font-size="9.41" text-anchor="middle" textLength="19.11" lengthAdjust="spacingAndGlyphs" fill="#2a2a2a" stroke="none">C13</text>
<text x="906.60" y="271.69" font-size="9.41" text-anchor="middle" textLength="33.72" lengthAdjust="spacingAndGlyphs" fill="#2a2a2a" stroke="none">100 µF</text>
<text x="906.60" y="281.00" font-size="9.41" text-anchor="middle" textLength="22.39" lengthAdjust="spacingAndGlyphs" fill="#2a2a2a" stroke="none">10 V</text>
<text x="561.00" y="325.99" font-size="9.41" text-anchor="middle" textLength="13.65" lengthAdjust="spacingAndGlyphs" fill="#2a2a2a" stroke="none">D2</text>
<text x="561.00" y="335.19" font-size="9.41" text-anchor="middle" textLength="60.45" lengthAdjust="spacingAndGlyphs" fill="#2a2a2a" stroke="none">DFLR1200-7</text>
<text x="561.00" y="344.39" font-size="9.41" text-anchor="middle" textLength="28.56" lengthAdjust="spacingAndGlyphs" fill="#2a2a2a" stroke="none">200 V</text>
<text x="657.40" y="322.79" font-size="9.41" text-anchor="middle" textLength="12.94" lengthAdjust="spacingAndGlyphs" fill="#2a2a2a" stroke="none">C4</text>
<text x="657.40" y="331.99" font-size="9.41" text-anchor="middle" textLength="24.13" lengthAdjust="spacingAndGlyphs" fill="#2a2a2a" stroke="none">47µF</text>
<text x="657.40" y="341.19" font-size="9.41" text-anchor="middle" textLength="22.39" lengthAdjust="spacingAndGlyphs" fill="#2a2a2a" stroke="none">25 V</text>
<text x="501.00" y="362.59" font-size="9.41" text-anchor="middle" textLength="12.91" lengthAdjust="spacingAndGlyphs" fill="#2a2a2a" stroke="none">R5</text>
<text x="501.00" y="371.99" font-size="9.41" text-anchor="middle" textLength="38.96" lengthAdjust="spacingAndGlyphs" fill="#2a2a2a" stroke="none">3.74 kΩ</text>
<text x="501.00" y="381.39" font-size="9.41" text-anchor="middle" textLength="16.61" lengthAdjust="spacingAndGlyphs" fill="#2a2a2a" stroke="none">1%</text>
<text x="486.00" y="405.79" font-size="9.41" text-anchor="middle" textLength="19.55" lengthAdjust="spacingAndGlyphs" fill="#2a2a2a" stroke="none">VR2</text>
<text x="486.00" y="414.99" font-size="9.41" text-anchor="middle" textLength="81.52" lengthAdjust="spacingAndGlyphs" fill="#2a2a2a" stroke="none">MMSZ5245B-7-F</text>
<text x="467.00" y="443.79" font-size="9.41" text-anchor="middle" textLength="13.65" lengthAdjust="spacingAndGlyphs" fill="#2a2a2a" stroke="none">D3</text>
<text x="467.00" y="452.99" font-size="9.41" text-anchor="middle" textLength="48.49" lengthAdjust="spacingAndGlyphs" fill="#2a2a2a" stroke="none">BAV19WS</text>
<text x="605.00" y="446.39" font-size="9.41" text-anchor="middle" textLength="19.92" lengthAdjust="spacingAndGlyphs" fill="#2a2a2a" stroke="none">U2B</text>
<text x="605.00" y="455.79" font-size="9.41" text-anchor="middle" textLength="44.00" lengthAdjust="spacingAndGlyphs" fill="#2a2a2a" stroke="none">LTV817D</text>
<text x="671.00" y="497.79" font-size="9.41" text-anchor="middle" textLength="19.90" lengthAdjust="spacingAndGlyphs" fill="#2a2a2a" stroke="none">U2A</text>
<text x="671.00" y="507.79" font-size="9.41" text-anchor="middle" textLength="44.00" lengthAdjust="spacingAndGlyphs" fill="#2a2a2a" stroke="none">LTV817D</text>
<text x="677.00" y="401.99" font-size="9.41" text-anchor="middle" textLength="19.08" lengthAdjust="spacingAndGlyphs" fill="#2a2a2a" stroke="none">R12</text>
<text x="677.00" y="411.39" font-size="9.41" text-anchor="middle" textLength="29.68" lengthAdjust="spacingAndGlyphs" fill="#2a2a2a" stroke="none">470 Ω</text>
<text x="768.40" y="380.79" font-size="9.41" text-anchor="middle" textLength="19.11" lengthAdjust="spacingAndGlyphs" fill="#2a2a2a" stroke="none">C14</text>
<text x="768.40" y="389.69" font-size="9.41" text-anchor="middle" textLength="27.47" lengthAdjust="spacingAndGlyphs" fill="#2a2a2a" stroke="none">47 nF</text>
<text x="768.40" y="398.59" font-size="9.41" text-anchor="middle" textLength="22.39" lengthAdjust="spacingAndGlyphs" fill="#2a2a2a" stroke="none">25 V</text>
<text x="768.40" y="412.99" font-size="9.41" text-anchor="middle" textLength="19.08" lengthAdjust="spacingAndGlyphs" fill="#2a2a2a" stroke="none">R13</text>
<text x="768.40" y="422.29" font-size="9.41" text-anchor="middle" textLength="29.68" lengthAdjust="spacingAndGlyphs" fill="#2a2a2a" stroke="none">100 Ω</text>
<text x="768.40" y="431.59" font-size="9.41" text-anchor="middle" textLength="16.61" lengthAdjust="spacingAndGlyphs" fill="#2a2a2a" stroke="none">1%</text>
<text x="767.50" y="468.59" font-size="9.41" text-anchor="middle" textLength="19.08" lengthAdjust="spacingAndGlyphs" fill="#2a2a2a" stroke="none">R16</text>
<text x="767.50" y="477.89" font-size="9.41" text-anchor="middle" textLength="29.26" lengthAdjust="spacingAndGlyphs" fill="#2a2a2a" stroke="none">10 kΩ</text>
<text x="767.50" y="487.19" font-size="9.41" text-anchor="middle" textLength="35.92" lengthAdjust="spacingAndGlyphs" fill="#2a2a2a" stroke="none">1/10 W</text>
<text x="732.00" y="522.00" font-size="9.41" text-anchor="middle" textLength="19.08" lengthAdjust="spacingAndGlyphs" fill="#2a2a2a" stroke="none">R14</text>
<text x="732.00" y="531.39" font-size="9.41" text-anchor="middle" textLength="23.09" lengthAdjust="spacingAndGlyphs" fill="#2a2a2a" stroke="none">3 kΩ</text>
<text x="732.00" y="540.79" font-size="9.41" text-anchor="middle" textLength="35.92" lengthAdjust="spacingAndGlyphs" fill="#2a2a2a" stroke="none">1/10 W</text>
<text x="792.00" y="519.39" font-size="9.41" text-anchor="middle" textLength="19.11" lengthAdjust="spacingAndGlyphs" fill="#2a2a2a" stroke="none">C15</text>
<text x="792.00" y="529.00" font-size="9.41" text-anchor="middle" textLength="33.64" lengthAdjust="spacingAndGlyphs" fill="#2a2a2a" stroke="none">220 nF</text>
<text x="792.00" y="538.60" font-size="9.41" text-anchor="middle" textLength="22.39" lengthAdjust="spacingAndGlyphs" fill="#2a2a2a" stroke="none">25 V</text>
<text x="740.60" y="561.59" font-size="9.41" text-anchor="middle" textLength="13.27" lengthAdjust="spacingAndGlyphs" fill="#2a2a2a" stroke="none">U3</text>
<text x="740.60" y="570.89" font-size="9.41" text-anchor="middle" textLength="64.18" lengthAdjust="spacingAndGlyphs" fill="#2a2a2a" stroke="none">TL431CDBZR</text>
<text x="811.40" y="560.79" font-size="9.41" text-anchor="middle" textLength="19.08" lengthAdjust="spacingAndGlyphs" fill="#2a2a2a" stroke="none">R15</text>
<text x="811.40" y="569.89" font-size="9.41" text-anchor="middle" textLength="29.26" lengthAdjust="spacingAndGlyphs" fill="#2a2a2a" stroke="none">10 kΩ</text>
<text x="811.40" y="579.00" font-size="9.41" text-anchor="middle" textLength="16.61" lengthAdjust="spacingAndGlyphs" fill="#2a2a2a" stroke="none">1%</text>
<text x="811.40" y="588.09" font-size="9.41" text-anchor="middle" textLength="29.75" lengthAdjust="spacingAndGlyphs" fill="#2a2a2a" stroke="none">1/8 W</text>
<text x="909.00" y="435.09" font-size="9.41" text-anchor="middle" textLength="19.08" lengthAdjust="spacingAndGlyphs" fill="#2a2a2a" stroke="none">R10</text>
<text x="909.00" y="444.09" font-size="9.41" text-anchor="middle" textLength="38.96" lengthAdjust="spacingAndGlyphs" fill="#2a2a2a" stroke="none">78.7 kΩ</text>
<text x="909.00" y="453.09" font-size="9.41" text-anchor="middle" textLength="16.61" lengthAdjust="spacingAndGlyphs" fill="#2a2a2a" stroke="none">1%</text>
<text x="909.00" y="462.09" font-size="9.41" text-anchor="middle" textLength="35.92" lengthAdjust="spacingAndGlyphs" fill="#2a2a2a" stroke="none">1/10 W</text>
<text x="993.50" y="435.09" font-size="9.41" text-anchor="middle" textLength="19.08" lengthAdjust="spacingAndGlyphs" fill="#2a2a2a" stroke="none">R11</text>
<text x="993.50" y="444.09" font-size="9.41" text-anchor="middle" textLength="29.26" lengthAdjust="spacingAndGlyphs" fill="#2a2a2a" stroke="none">20 kΩ</text>
<text x="993.50" y="453.09" font-size="9.41" text-anchor="middle" textLength="16.61" lengthAdjust="spacingAndGlyphs" fill="#2a2a2a" stroke="none">1%</text>
<text x="993.50" y="462.09" font-size="9.41" text-anchor="middle" textLength="35.92" lengthAdjust="spacingAndGlyphs" fill="#2a2a2a" stroke="none">1/10 W</text>
<text x="501.00" y="557.79" font-size="9.41" text-anchor="middle" textLength="12.94" lengthAdjust="spacingAndGlyphs" fill="#2a2a2a" stroke="none">C5</text>
<text x="501.00" y="567.00" font-size="9.41" text-anchor="middle" textLength="33.64" lengthAdjust="spacingAndGlyphs" fill="#2a2a2a" stroke="none">100 nF</text>
<text x="501.00" y="576.19" font-size="9.41" text-anchor="middle" textLength="22.39" lengthAdjust="spacingAndGlyphs" fill="#2a2a2a" stroke="none">25 V</text>
<text x="549.00" y="545.79" font-size="9.41" text-anchor="middle" textLength="12.91" lengthAdjust="spacingAndGlyphs" fill="#2a2a2a" stroke="none">R7</text>
<text x="549.00" y="554.89" font-size="9.41" text-anchor="middle" textLength="27.04" lengthAdjust="spacingAndGlyphs" fill="#2a2a2a" stroke="none">6.8 Ω</text>
<text x="549.00" y="564.00" font-size="9.41" text-anchor="middle" textLength="29.75" lengthAdjust="spacingAndGlyphs" fill="#2a2a2a" stroke="none">1/8 W</text>
<text x="601.00" y="574.79" font-size="9.41" text-anchor="middle" textLength="12.94" lengthAdjust="spacingAndGlyphs" fill="#2a2a2a" stroke="none">C6</text>
<text x="601.00" y="584.00" font-size="9.41" text-anchor="middle" textLength="27.55" lengthAdjust="spacingAndGlyphs" fill="#2a2a2a" stroke="none">47 µF</text>
<text x="601.00" y="593.19" font-size="9.41" text-anchor="middle" textLength="22.39" lengthAdjust="spacingAndGlyphs" fill="#2a2a2a" stroke="none">25 V</text>
<text x="329.00" y="567.39" font-size="9.41" text-anchor="middle" textLength="12.91" lengthAdjust="spacingAndGlyphs" fill="#2a2a2a" stroke="none">R6</text>
<text x="329.00" y="576.00" font-size="9.41" text-anchor="middle" textLength="38.96" lengthAdjust="spacingAndGlyphs" fill="#2a2a2a" stroke="none">15.4 kΩ</text>
<text x="329.00" y="584.60" font-size="9.41" text-anchor="middle" textLength="16.61" lengthAdjust="spacingAndGlyphs" fill="#2a2a2a" stroke="none">1%</text>
<text x="329.00" y="593.19" font-size="9.41" text-anchor="middle" textLength="35.92" lengthAdjust="spacingAndGlyphs" fill="#2a2a2a" stroke="none">1/10 W</text>
<text x="294.20" y="519.32" font-size="8.92" text-anchor="middle" textLength="81.00" lengthAdjust="spacingAndGlyphs" fill="#151515" font-weight="bold" stroke="#151515" stroke-width="0.3">TOPSwitch-JX</text>
<text x="294.80" y="529.69" font-size="9.41" text-anchor="middle" textLength="13.27" lengthAdjust="spacingAndGlyphs" fill="#2a2a2a" stroke="none">U1</text>
<text x="295.60" y="539.09" font-size="9.41" text-anchor="middle" textLength="52.12" lengthAdjust="spacingAndGlyphs" fill="#2a2a2a" stroke="none">TOP267VG</text>
<text x="401.60" y="519.87" font-size="7.95" text-anchor="middle" textLength="46.00" lengthAdjust="spacingAndGlyphs" fill="#151515" font-weight="bold" stroke="#151515" stroke-width="0.3">CONTROL</text>
<text x="355.10" y="504.72" font-size="6.98" text-anchor="middle" textLength="6.47" lengthAdjust="spacingAndGlyphs" fill="#151515" font-weight="bold" stroke="#151515" stroke-width="0.3">D</text>
<text x="403.90" y="504.72" font-size="6.98" text-anchor="middle" textLength="5.96" lengthAdjust="spacingAndGlyphs" fill="#151515" font-weight="bold" stroke="#151515" stroke-width="0.3">V</text>
<text x="355.10" y="558.12" font-size="6.98" text-anchor="middle" textLength="5.54" lengthAdjust="spacingAndGlyphs" fill="#151515" font-weight="bold" stroke="#151515" stroke-width="0.3">S</text>
<text x="396.90" y="558.12" font-size="6.98" text-anchor="middle" textLength="5.96" lengthAdjust="spacingAndGlyphs" fill="#151515" font-weight="bold" stroke="#151515" stroke-width="0.3">X</text>
<text x="423.50" y="558.12" font-size="6.98" text-anchor="middle" textLength="5.07" lengthAdjust="spacingAndGlyphs" fill="#151515" font-weight="bold" stroke="#151515" stroke-width="0.3">F</text>
<text x="442.20" y="528.82" font-size="6.98" text-anchor="middle" textLength="5.65" lengthAdjust="spacingAndGlyphs" fill="#151515" font-weight="bold" stroke="#151515" stroke-width="0.3">C</text>
<text x="1044.00" y="112.96" font-size="9.31" text-anchor="middle" textLength="49.50" lengthAdjust="spacingAndGlyphs" fill="#151515" font-weight="bold" stroke="#151515" stroke-width="0.3">12 V, 2 A</text>
<text x="1044.00" y="131.56" font-size="9.31" text-anchor="middle" textLength="33.00" lengthAdjust="spacingAndGlyphs" fill="#151515" font-weight="bold" stroke="#151515" stroke-width="0.3">+12 V</text>
<text x="1044.00" y="190.96" font-size="9.31" text-anchor="middle" textLength="25.50" lengthAdjust="spacingAndGlyphs" fill="#151515" font-weight="bold" stroke="#151515" stroke-width="0.3">GND</text>
<text x="1044.60" y="241.16" font-size="9.31" text-anchor="middle" textLength="70.50" lengthAdjust="spacingAndGlyphs" fill="#151515" font-weight="bold" stroke="#151515" stroke-width="0.3">5 V, 500 mA</text>
<text x="1044.00" y="260.56" font-size="9.31" text-anchor="middle" textLength="27.00" lengthAdjust="spacingAndGlyphs" fill="#151515" font-weight="bold" stroke="#151515" stroke-width="0.3">+5 V</text>
<text x="1044.00" y="286.56" font-size="9.31" text-anchor="middle" textLength="32.00" lengthAdjust="spacingAndGlyphs" fill="#151515" font-weight="bold" stroke="#151515" stroke-width="0.3">GND1</text>
</g></defs>
<use href="#all" x="-0.4" y="0" opacity="0.7"/>
<use href="#all" x="0.4" y="0" opacity="0.7"/>
<use href="#txt" x="-0.25" y="0" opacity="0.6"/>
<use href="#txt" x="0.25" y="0" opacity="0.6"/>
</svg>
</body></html>
